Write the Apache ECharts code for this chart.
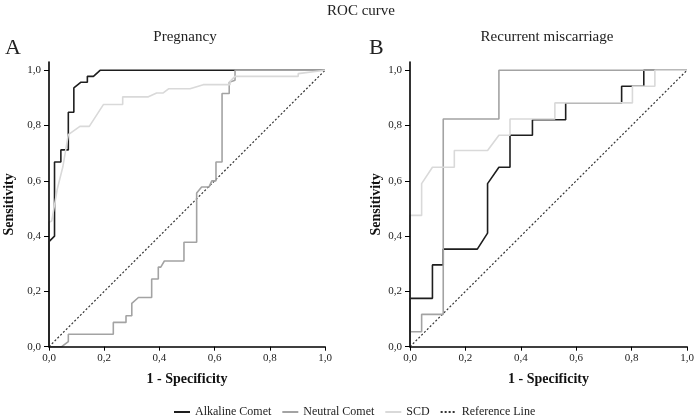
<!DOCTYPE html>
<html>
<head>
<meta charset="utf-8">
<script src="https://cdn.jsdelivr.net/npm/echarts@6/dist/echarts.min.js"></script>
<style>
html,body{margin:0;padding:0;background:#fff;}
#chart{width:697px;height:416px;}
</style>
</head>
<body>
<div id="chart"></div>
<script>
// ---- Data ----
const tickValues = [0, 0.2, 0.4, 0.6, 0.8, 1.0];
const seriesNames = ['Alkaline Comet', 'Neutral Comet', 'SCD', 'Reference Line'];

// Panel A: Pregnancy
const pregAlkalineX = [0, 0, 0.02, 0.02, 0.043, 0.043, 0.07, 0.07, 0.09, 0.09, 0.116, 0.139, 0.139, 0.161, 0.185, 1.0];
const pregAlkalineY = [0, 0.38, 0.40, 0.668, 0.668, 0.712, 0.712, 0.848, 0.848, 0.936, 0.957, 0.957, 0.978, 0.978, 1.0, 1.0];

const pregNeutralX = [0, 0.046, 0.07, 0.07, 0.233, 0.233, 0.279, 0.279, 0.30, 0.30, 0.324, 0.372, 0.372, 0.396, 0.396, 0.405, 0.418, 0.489, 0.489, 0.535, 0.535, 0.553, 0.58, 0.59, 0.605, 0.605, 0.627, 0.627, 0.653, 0.653, 0.674, 0.674, 1.0];
const pregNeutralY = [0, 0, 0.018, 0.045, 0.045, 0.088, 0.088, 0.112, 0.112, 0.157, 0.178, 0.178, 0.245, 0.245, 0.288, 0.288, 0.31, 0.31, 0.378, 0.378, 0.556, 0.578, 0.578, 0.60, 0.60, 0.668, 0.668, 0.916, 0.916, 0.957, 0.964, 1.0, 1.0];

const pregScdX = [0, 0, 0.01, 0.03, 0.05, 0.07, 0.112, 0.146, 0.197, 0.267, 0.267, 0.36, 0.39, 0.414, 0.433, 0.511, 0.559, 0.656, 0.656, 0.674, 0.903, 0.903, 1.0];
const pregScdY = [0, 0.45, 0.455, 0.57, 0.65, 0.767, 0.797, 0.797, 0.876, 0.876, 0.904, 0.904, 0.918, 0.918, 0.933, 0.933, 0.948, 0.948, 0.96, 0.978, 0.978, 0.988, 1.0];

// Panel B: Recurrent miscarriage
const rmAlkalineX = [0, 0, 0.081, 0.081, 0.12, 0.12, 0.243, 0.28, 0.28, 0.321, 0.361, 0.361, 0.442, 0.442, 0.562, 0.562, 0.764, 0.764, 0.844, 0.844, 1.0];
const rmAlkalineY = [0, 0.175, 0.175, 0.296, 0.296, 0.353, 0.353, 0.411, 0.59, 0.649, 0.649, 0.765, 0.765, 0.821, 0.821, 0.882, 0.882, 0.942, 0.942, 1.0, 1.0];

const rmNeutralX = [0, 0, 0.042, 0.042, 0.12, 0.12, 0.321, 0.321, 1.0];
const rmNeutralY = [0, 0.054, 0.054, 0.117, 0.117, 0.824, 0.824, 1.0, 1.0];

const rmScdX = [0, 0, 0.042, 0.042, 0.081, 0.16, 0.16, 0.28, 0.321, 0.361, 0.361, 0.523, 0.523, 0.803, 0.803, 0.884, 0.884, 1.0];
const rmScdY = [0, 0.475, 0.475, 0.59, 0.649, 0.649, 0.71, 0.71, 0.765, 0.765, 0.824, 0.824, 0.882, 0.882, 0.942, 0.942, 1.0, 1.0];

const refLineX = [0, 1];
const refLineY = [0, 1];

// ---- Helpers ----
const zip = (xs, ys) => xs.map((x, i) => [x, ys[i]]);
const SERIF = '"Liberation Serif", "DejaVu Serif", serif';
const fmt = v => (Math.round(v * 10) / 10).toFixed(1).replace('.', ',');

const colors = {
  'Alkaline Comet': '#1e1e1e',
  'Neutral Comet': '#a3a3a3',
  'SCD': '#d9d9d9',
  'Reference Line': '#333333'
};

function xAxisFor(gi, nameGap) {
  return {
    gridIndex: gi, type: 'value', min: 0, max: 1, interval: 0.2, z: 10,
    name: '1 - Specificity', nameLocation: 'middle', nameGap: nameGap,
    nameTextStyle: {fontFamily: SERIF, fontWeight: 'bold', fontSize: 14, color: '#111'},
    axisLine: {show: true, onZero: false, lineStyle: {color: '#000', width: 1.6}},
    axisTick: {show: true, length: 4, lineStyle: {color: '#000', width: 1}},
    axisLabel: {fontFamily: SERIF, fontSize: 11, color: '#222', margin: 6, formatter: fmt},
    splitLine: {show: false}
  };
}
function yAxisFor(gi, nameGap) {
  return {
    gridIndex: gi, type: 'value', min: 0, max: 1.03, z: 10,
    name: 'Sensitivity', nameLocation: 'middle', nameGap: nameGap,
    nameTextStyle: {fontFamily: SERIF, fontWeight: 'bold', fontSize: 14, color: '#111'},
    axisLine: {show: true, onZero: false, lineStyle: {color: '#000', width: 1.6}},
    axisTick: {show: true, length: 5, customValues: tickValues, lineStyle: {color: '#000', width: 1}},
    axisLabel: {fontFamily: SERIF, fontSize: 11, color: '#222', margin: 8, customValues: tickValues, formatter: fmt},
    splitLine: {show: false}
  };
}
function lineSeries(name, gi, data) {
  const isRef = name === 'Reference Line';
  return {
    name: name, type: 'line', xAxisIndex: gi, yAxisIndex: gi,
    data: data, symbol: 'none', showSymbol: false, animation: false,
    silent: true,
    lineStyle: {color: colors[name], width: isRef ? 1.2 : 1.6, type: isRef ? [2, 2] : 'solid'},
    itemStyle: {color: colors[name]},
    z: isRef ? 1 : 2
  };
}

const chart = echarts.init(document.getElementById('chart'), null, {renderer: 'canvas'});
const option = {
  backgroundColor: '#ffffff',
  animation: false,
  grid: [
    {left: 49, top: 62, width: 276, height: 284.7},
    {left: 410, top: 62, width: 277, height: 284.7}
  ],
  xAxis: [xAxisFor(0, 26), xAxisFor(1, 26)],
  yAxis: [yAxisFor(0, 33), yAxisFor(1, 27)],
  legend: {
    show: true,
    left: 168, top: 401, itemGap: 10, itemWidth: 16, itemHeight: 10,
    data: seriesNames,
    itemStyle: {opacity: 0},
    textStyle: {fontFamily: SERIF, fontSize: 12, color: '#222'}
  },
  graphic: [
    {type: 'text', x: 361, y: 11, style: {text: 'ROC curve', font: '15px ' + SERIF, fill: '#222', textAlign: 'center', textVerticalAlign: 'middle'}},
    {type: 'text', x: 185, y: 37, style: {text: 'Pregnancy', font: '15px ' + SERIF, fill: '#222', textAlign: 'center', textVerticalAlign: 'middle'}},
    {type: 'text', x: 547, y: 37, style: {text: 'Recurrent miscarriage', font: '15px ' + SERIF, fill: '#222', textAlign: 'center', textVerticalAlign: 'middle'}},
    {type: 'text', x: 5, y: 37, style: {text: 'A', font: '22px ' + SERIF, fill: '#222'}},
    {type: 'text', x: 369, y: 37, style: {text: 'B', font: '22px ' + SERIF, fill: '#222'}}
  ],
  series: [
    lineSeries('Alkaline Comet', 0, zip(pregAlkalineX, pregAlkalineY)),
    lineSeries('Neutral Comet', 0, zip(pregNeutralX, pregNeutralY)),
    lineSeries('SCD', 0, zip(pregScdX, pregScdY)),
    lineSeries('Reference Line', 0, zip(refLineX, refLineY)),
    lineSeries('Alkaline Comet', 1, zip(rmAlkalineX, rmAlkalineY)),
    lineSeries('Neutral Comet', 1, zip(rmNeutralX, rmNeutralY)),
    lineSeries('SCD', 1, zip(rmScdX, rmScdY)),
    lineSeries('Reference Line', 1, zip(refLineX, refLineY))
  ]
};
chart.setOption(option);
</script>
</body>
</html>
